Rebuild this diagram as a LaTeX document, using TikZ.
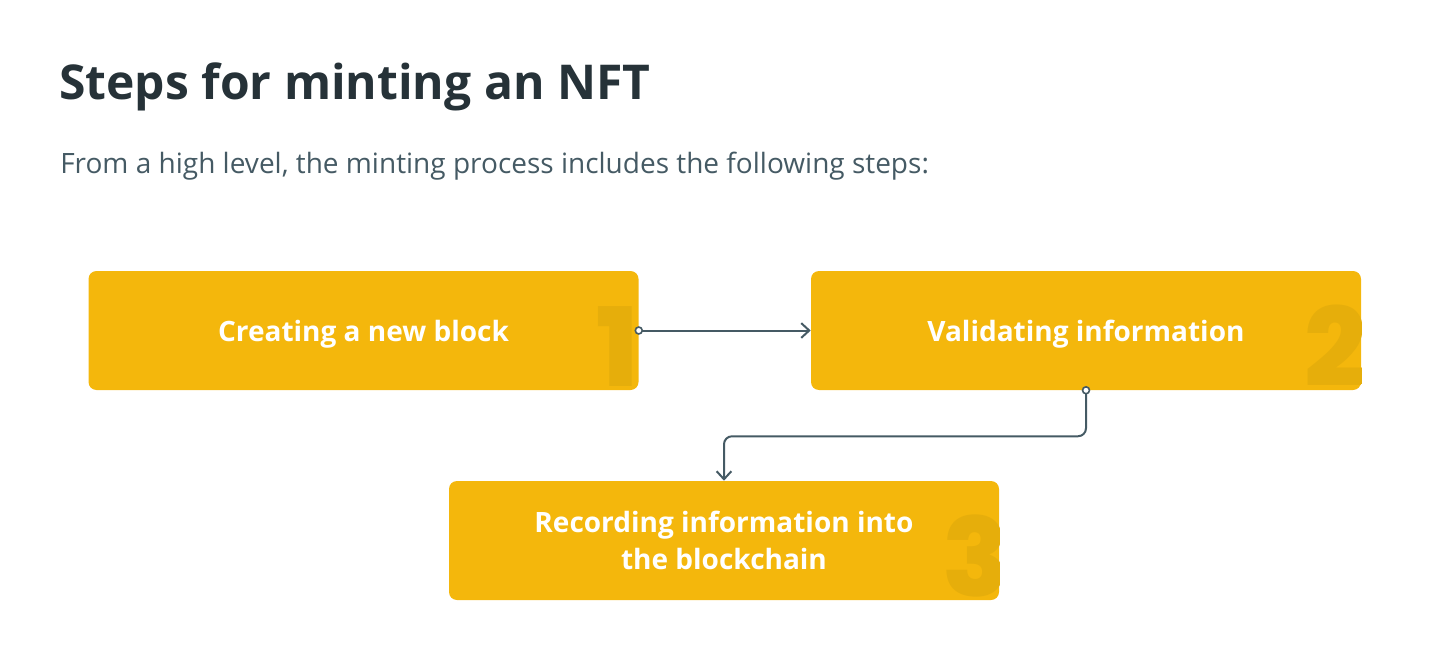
\documentclass[tikz,border=0pt]{standalone}
\usepackage{fontspec}
\setmainfont{Open Sans}
\newfontfamily\numfont{Poppins}[BoldFont={Poppins ExtraBold}]
\usepackage{tikz}
\usetikzlibrary{arrows.meta}

\definecolor{ink}{HTML}{263238}
\definecolor{slate}{HTML}{455A64}
\definecolor{amber}{HTML}{F4B70C}
\definecolor{amberdark}{HTML}{E6AE0B}

\begin{document}
\begin{tikzpicture}[x=0.75pt, y=-0.75pt,
    stepbox/.style={fill=amber, rounded corners=6pt, minimum width=412.5pt,
        minimum height=89.25pt, text=white, align=center, text depth=0pt,
        font=\fontsize{21}{27.75}\selectfont\bfseries},
    stepnum/.style={text=amberdark, inner sep=0pt,
        font=\numfont\fontsize{82}{82}\selectfont\bfseries},
    link/.style={draw=slate, line width=1.5pt},
    dot/.style={draw=slate, fill=white, line width=1.2pt}]
    \useasboundingbox (0,0) rectangle (1450,656);

    \node[anchor=base west, inner sep=0pt, text=ink, font=\fontsize{36}{43}\selectfont\bfseries]
        (title) at (59,100) {Steps for minting an NFT};
    \node[anchor=base west, inner sep=0pt, text=slate, font=\fontsize{21}{25}\selectfont]
        (intro) at (60,174) {From a high level, the minting process includes the following steps:};

    \node[stepbox] (create) at (363.5,330.5) {Creating a new block};
    \node[stepbox] (validate) at (1086,330.5) {Validating information};
    \node[stepbox] (record) at (724,540.5) {Recording information into\\the blockchain};

    % big faded step numbers, cut off by the boxes
    \foreach \blk/\num/\dx in {create/1/-32pt, validate/2/-43pt, record/3/-43pt} {
        \begin{scope}
            \clip[rounded corners=6pt] (\blk.south west) rectangle (\blk.north east);
            \node[stepnum, anchor=base west] (num\num) at ([xshift=\dx, yshift=3pt]\blk.south east) {\num};
        \end{scope}
    }

    % connectors
    \draw[link, -{Straight Barb[length=6pt, width=11pt]}] (create.east) -- (validate.west);
    \draw[link, rounded corners=6pt, -{Straight Barb[length=6pt, width=11pt]}]
        (validate.south) -- ++(0,46) -| (record.north);
    \filldraw[dot] (create.east) circle (2.6pt);
    \filldraw[dot] (validate.south) circle (2.6pt);
\end{tikzpicture}
\end{document}
